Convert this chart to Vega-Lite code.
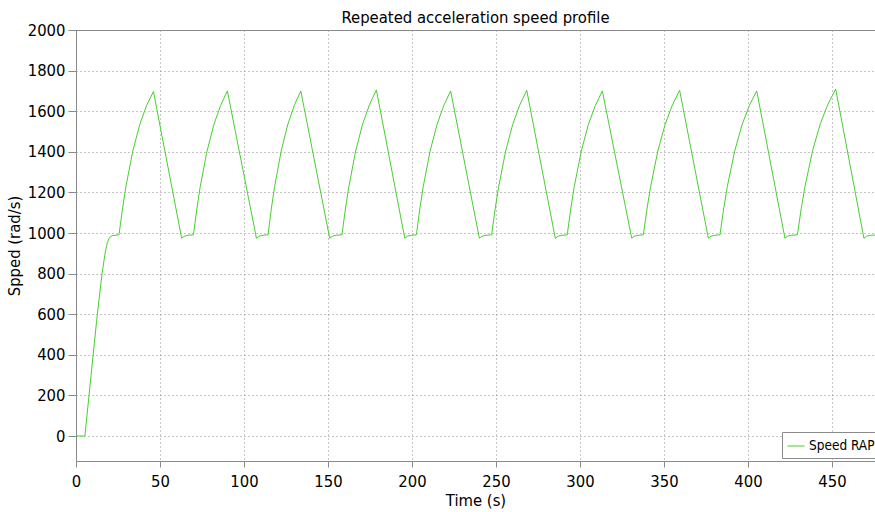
{
  "$schema": "https://vega.github.io/schema/vega-lite/v6.json",
  "width": 799,
  "height": 431,
  "autosize": {"type": "none"},
  "padding": {"left": 76, "top": 30, "right": 0, "bottom": 51},
  "background": "white",
  "config": {
    "font": "DejaVu Sans Condensed",
    "view": {"stroke": "#8a8a8a", "strokeWidth": 1},
    "axis": {
      "domainColor": "#8a8a8a",
      "tickColor": "#8a8a8a",
      "gridColor": "#8c8c8c",
      "gridDash": [1, 3],
      "gridWidth": 1,
      "labelFont": "DejaVu Sans Condensed",
      "labelFontSize": 16.5,
      "labelColor": "#000000",
      "titleFont": "DejaVu Sans Condensed",
      "titleFontSize": 16.5,
      "titleFontWeight": "normal",
      "titleColor": "#000000"
    }
  },
  "title": {
    "text": "Repeated acceleration speed profile",
    "font": "DejaVu Sans Condensed",
    "fontSize": 16.5,
    "fontWeight": "normal",
    "color": "#000000",
    "anchor": "middle",
    "offset": -4
  },
  "data": {
    "values": [
      {"t": 0, "speed": 0, "series": "Speed RAP"},
      {"t": 5.3, "speed": 0, "series": "Speed RAP"},
      {"t": 10, "speed": 385, "series": "Speed RAP"},
      {"t": 12.7, "speed": 600, "series": "Speed RAP"},
      {"t": 15.5, "speed": 800, "series": "Speed RAP"},
      {"t": 17.5, "speed": 910, "series": "Speed RAP"},
      {"t": 18.7, "speed": 955, "series": "Speed RAP"},
      {"t": 20, "speed": 978, "series": "Speed RAP"},
      {"t": 21.5, "speed": 987, "series": "Speed RAP"},
      {"t": 25.6, "speed": 991, "series": "Speed RAP"},
      {"t": 27.65, "speed": 1118, "series": "Speed RAP"},
      {"t": 29.7, "speed": 1228, "series": "Speed RAP"},
      {"t": 33.8, "speed": 1403, "series": "Speed RAP"},
      {"t": 37.9, "speed": 1533, "series": "Speed RAP"},
      {"t": 42.0, "speed": 1628, "series": "Speed RAP"},
      {"t": 46.1, "speed": 1697, "series": "Speed RAP"},
      {"t": 62.9, "speed": 974, "series": "Speed RAP"},
      {"t": 64.4, "speed": 984, "series": "Speed RAP"},
      {"t": 66.9, "speed": 989, "series": "Speed RAP"},
      {"t": 69.9, "speed": 991, "series": "Speed RAP"},
      {"t": 71.92, "speed": 1118, "series": "Speed RAP"},
      {"t": 73.94, "speed": 1228, "series": "Speed RAP"},
      {"t": 77.98, "speed": 1403, "series": "Speed RAP"},
      {"t": 82.02, "speed": 1533, "series": "Speed RAP"},
      {"t": 86.06, "speed": 1628, "series": "Speed RAP"},
      {"t": 90.1, "speed": 1700, "series": "Speed RAP"},
      {"t": 107.4, "speed": 974, "series": "Speed RAP"},
      {"t": 108.9, "speed": 984, "series": "Speed RAP"},
      {"t": 111.4, "speed": 989, "series": "Speed RAP"},
      {"t": 114.3, "speed": 991, "series": "Speed RAP"},
      {"t": 116.25, "speed": 1118, "series": "Speed RAP"},
      {"t": 118.2, "speed": 1228, "series": "Speed RAP"},
      {"t": 122.1, "speed": 1403, "series": "Speed RAP"},
      {"t": 126.0, "speed": 1533, "series": "Speed RAP"},
      {"t": 129.9, "speed": 1628, "series": "Speed RAP"},
      {"t": 133.8, "speed": 1700, "series": "Speed RAP"},
      {"t": 151.0, "speed": 974, "series": "Speed RAP"},
      {"t": 152.5, "speed": 984, "series": "Speed RAP"},
      {"t": 155.0, "speed": 989, "series": "Speed RAP"},
      {"t": 158.3, "speed": 991, "series": "Speed RAP"},
      {"t": 160.35, "speed": 1118, "series": "Speed RAP"},
      {"t": 162.4, "speed": 1228, "series": "Speed RAP"},
      {"t": 166.5, "speed": 1405, "series": "Speed RAP"},
      {"t": 170.6, "speed": 1536, "series": "Speed RAP"},
      {"t": 174.7, "speed": 1632, "series": "Speed RAP"},
      {"t": 178.8, "speed": 1705, "series": "Speed RAP"},
      {"t": 195.7, "speed": 974, "series": "Speed RAP"},
      {"t": 197.2, "speed": 984, "series": "Speed RAP"},
      {"t": 199.7, "speed": 989, "series": "Speed RAP"},
      {"t": 202.6, "speed": 991, "series": "Speed RAP"},
      {"t": 204.64, "speed": 1118, "series": "Speed RAP"},
      {"t": 206.68, "speed": 1228, "series": "Speed RAP"},
      {"t": 210.76, "speed": 1403, "series": "Speed RAP"},
      {"t": 214.84, "speed": 1533, "series": "Speed RAP"},
      {"t": 218.92, "speed": 1628, "series": "Speed RAP"},
      {"t": 223.0, "speed": 1700, "series": "Speed RAP"},
      {"t": 240.1, "speed": 974, "series": "Speed RAP"},
      {"t": 241.6, "speed": 984, "series": "Speed RAP"},
      {"t": 244.1, "speed": 989, "series": "Speed RAP"},
      {"t": 247.4, "speed": 991, "series": "Speed RAP"},
      {"t": 249.49, "speed": 1118, "series": "Speed RAP"},
      {"t": 251.58, "speed": 1228, "series": "Speed RAP"},
      {"t": 255.76, "speed": 1404, "series": "Speed RAP"},
      {"t": 259.94, "speed": 1535, "series": "Speed RAP"},
      {"t": 264.12, "speed": 1630, "series": "Speed RAP"},
      {"t": 268.3, "speed": 1703, "series": "Speed RAP"},
      {"t": 285.3, "speed": 974, "series": "Speed RAP"},
      {"t": 286.8, "speed": 984, "series": "Speed RAP"},
      {"t": 289.3, "speed": 989, "series": "Speed RAP"},
      {"t": 292.4, "speed": 991, "series": "Speed RAP"},
      {"t": 294.49, "speed": 1118, "series": "Speed RAP"},
      {"t": 296.58, "speed": 1228, "series": "Speed RAP"},
      {"t": 300.76, "speed": 1403, "series": "Speed RAP"},
      {"t": 304.94, "speed": 1533, "series": "Speed RAP"},
      {"t": 309.12, "speed": 1628, "series": "Speed RAP"},
      {"t": 313.3, "speed": 1700, "series": "Speed RAP"},
      {"t": 330.8, "speed": 974, "series": "Speed RAP"},
      {"t": 332.3, "speed": 984, "series": "Speed RAP"},
      {"t": 334.8, "speed": 989, "series": "Speed RAP"},
      {"t": 337.7, "speed": 991, "series": "Speed RAP"},
      {"t": 339.86, "speed": 1118, "series": "Speed RAP"},
      {"t": 342.02, "speed": 1228, "series": "Speed RAP"},
      {"t": 346.34, "speed": 1404, "series": "Speed RAP"},
      {"t": 350.66, "speed": 1535, "series": "Speed RAP"},
      {"t": 354.98, "speed": 1630, "series": "Speed RAP"},
      {"t": 359.3, "speed": 1703, "series": "Speed RAP"},
      {"t": 376.4, "speed": 974, "series": "Speed RAP"},
      {"t": 377.9, "speed": 984, "series": "Speed RAP"},
      {"t": 380.4, "speed": 989, "series": "Speed RAP"},
      {"t": 383.3, "speed": 991, "series": "Speed RAP"},
      {"t": 385.49, "speed": 1118, "series": "Speed RAP"},
      {"t": 387.68, "speed": 1228, "series": "Speed RAP"},
      {"t": 392.06, "speed": 1403, "series": "Speed RAP"},
      {"t": 396.44, "speed": 1533, "series": "Speed RAP"},
      {"t": 400.82, "speed": 1628, "series": "Speed RAP"},
      {"t": 405.2, "speed": 1700, "series": "Speed RAP"},
      {"t": 422.0, "speed": 974, "series": "Speed RAP"},
      {"t": 423.5, "speed": 984, "series": "Speed RAP"},
      {"t": 426.0, "speed": 989, "series": "Speed RAP"},
      {"t": 429.4, "speed": 991, "series": "Speed RAP"},
      {"t": 431.68, "speed": 1120, "series": "Speed RAP"},
      {"t": 433.96, "speed": 1231, "series": "Speed RAP"},
      {"t": 438.52, "speed": 1408, "series": "Speed RAP"},
      {"t": 443.08, "speed": 1539, "series": "Speed RAP"},
      {"t": 447.64, "speed": 1635, "series": "Speed RAP"},
      {"t": 452.2, "speed": 1709, "series": "Speed RAP"},
      {"t": 469.0, "speed": 974, "series": "Speed RAP"},
      {"t": 470.5, "speed": 984, "series": "Speed RAP"},
      {"t": 473.0, "speed": 989, "series": "Speed RAP"},
      {"t": 475.6, "speed": 990, "series": "Speed RAP"}
    ]
  },
  "mark": {"type": "line", "strokeWidth": 1, "clip": true},
  "encoding": {
    "x": {
      "field": "t",
      "type": "quantitative",
      "title": "Time (s)",
      "scale": {"domain": [0, 475.6], "nice": false, "zero": false},
      "axis": {
        "values": [0, 50, 100, 150, 200, 250, 300, 350, 400, 450],
        "format": "d",
        "tickSize": 6,
        "labelPadding": 6,
        "titlePadding": 3,
        "labelFlush": false
      }
    },
    "y": {
      "field": "speed",
      "type": "quantitative",
      "title": "Spped (rad/s)",
      "scale": {"domain": [-123, 2000], "nice": false, "zero": false},
      "axis": {
        "values": [0, 200, 400, 600, 800, 1000, 1200, 1400, 1600, 1800, 2000],
        "format": "d",
        "tickSize": 8,
        "labelPadding": 3,
        "titlePadding": 5,
        "labelFlush": false
      }
    },
    "color": {
      "field": "series",
      "type": "nominal",
      "scale": {"range": ["#46d02e"]},
      "legend": {
        "title": null,
        "orient": "none",
        "legendX": 706,
        "legendY": 402,
        "symbolType": "stroke",
        "symbolSize": 289,
        "symbolStrokeWidth": 1,
        "labelFont": "DejaVu Sans Condensed",
        "labelFontSize": 13.5,
        "labelColor": "#000000",
        "strokeColor": "#8a8a8a",
        "fillColor": "#ffffff",
        "padding": 5
      }
    }
  }
}
